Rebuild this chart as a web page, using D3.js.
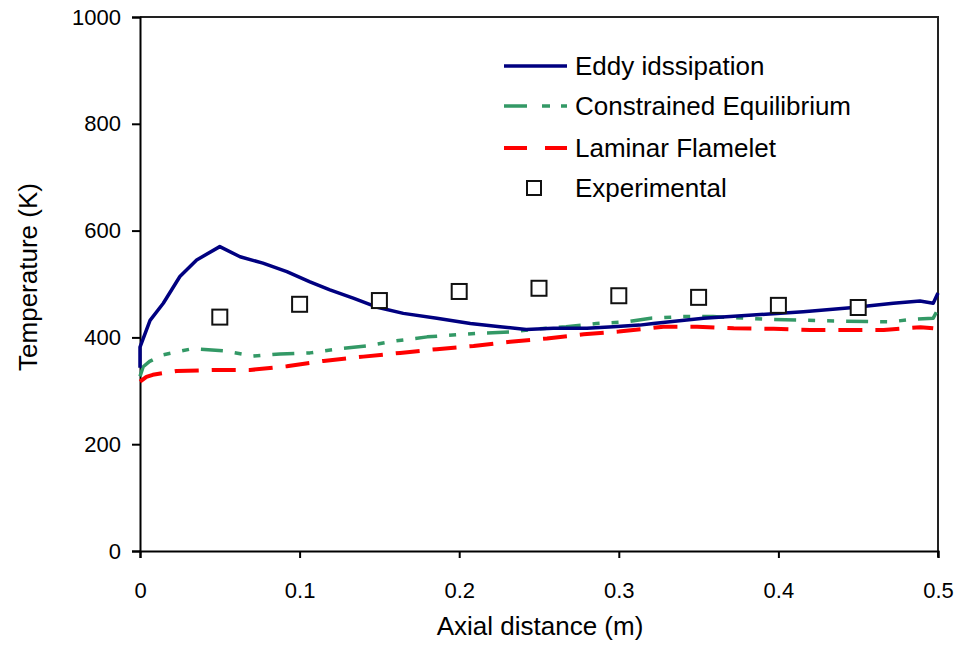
<!DOCTYPE html>
<html>
<head>
<meta charset="utf-8">
<script src="https://cdn.jsdelivr.net/npm/d3@7"></script>
<style>
  html, body { margin: 0; padding: 0; background: #fff; }
  svg text { font-family: Arial, "Liberation Sans", sans-serif; fill: #000; }
</style>
</head>
<body>
<svg id="chart" width="961" height="657"></svg>
<script>
// Axial temperature profiles: three combustion models vs. measurements
const eddyX = [0, 0, 0.0063, 0.0146, 0.025, 0.0355, 0.05, 0.0627, 0.077, 0.092, 0.1065, 0.119, 0.134, 0.148, 0.165, 0.186, 0.207, 0.2256, 0.242, 0.259, 0.28, 0.2966, 0.313, 0.3216, 0.353, 0.384, 0.4156, 0.447, 0.472, 0.4887, 0.497, 0.5];
const eddyT = [343, 382, 432, 464, 514, 545, 570, 551, 539, 523, 504, 489, 473, 457, 445, 436, 426, 420, 415, 417, 417, 420, 423, 426, 436, 442, 448, 456, 464, 468, 464, 483];

const ceqX = [0, 0.002, 0.006, 0.014, 0.033, 0.052, 0.071, 0.0877, 0.1065, 0.123, 0.142, 0.159, 0.18, 0.213, 0.232, 0.25, 0.267, 0.286, 0.305, 0.32, 0.34, 0.359, 0.392, 0.43, 0.47, 0.4845, 0.497, 0.5];
const ceqT = [327, 345, 355, 367, 379, 375, 365, 369, 371, 378, 384, 393, 401, 408, 410, 416, 420, 426, 429, 436, 439, 439, 434, 431, 429, 434, 436, 453];

const flameX = [0, 0.004, 0.008, 0.023, 0.046, 0.069, 0.092, 0.115, 0.14, 0.163, 0.186, 0.209, 0.232, 0.255, 0.278, 0.3, 0.328, 0.349, 0.372, 0.397, 0.42, 0.443, 0.466, 0.489, 0.497];
const flameT = [317, 326, 330, 337, 339, 339, 346, 356, 364, 371, 378, 384, 392, 398, 406, 411, 420, 420, 417, 416, 414, 414, 414, 419, 417];

const expX = [0.05, 0.1, 0.15, 0.2, 0.25, 0.3, 0.35, 0.4, 0.45];
const expT = [438, 462, 469, 486, 492, 478, 475, 460, 456];

const xTicks = [0, 0.1, 0.2, 0.3, 0.4, 0.5];
const yTicks = [0, 200, 400, 600, 800, 1000];

const seriesNames = ["Eddy idssipation", "Constrained Equilibrium", "Laminar Flamelet", "Experimental"];

const svg = d3.select("#chart");
const plotL = 140, plotR = 938, plotT = 17, plotB = 551;

const x = d3.scaleLinear().domain([0, 0.5]).range([plotL, plotR]);
const y = d3.scaleLinear().domain([0, 1000]).range([plotB, plotT]);

// frame: top and right edges of the plot box
svg.append("path")
  .attr("d", `M${plotL},${plotT}H${plotR}V${plotB + 6}`)
  .attr("fill", "none").attr("stroke", "#222").attr("stroke-width", 2);

// axes
const xAxis = svg.append("g").attr("transform", `translate(0,${plotB})`)
  .call(d3.axisBottom(x).tickValues(xTicks).tickSize(7).tickPadding(24)
    .tickFormat(d => d === 0 ? "0" : d3.format(".1f")(d)));
const yAxis = svg.append("g").attr("transform", `translate(${plotL},0)`)
  .call(d3.axisLeft(y).tickValues(yTicks).tickSize(8).tickPadding(11)
    .tickFormat(d3.format("d")));
[xAxis, yAxis].forEach(g => {
  g.attr("font-size", null).attr("font-family", null);
  g.select(".domain").attr("stroke", "#000").attr("stroke-width", 2);
  g.selectAll(".tick line").attr("stroke", "#000").attr("stroke-width", 2);
  g.selectAll(".tick text").style("font-size", "22px");
});

// axis titles
svg.append("text").attr("x", 540).attr("y", 635)
  .attr("text-anchor", "middle").style("font-size", "26px").text("Axial distance (m)");
svg.append("text").attr("transform", "translate(37,277) rotate(-90)")
  .attr("text-anchor", "middle").style("font-size", "26px").text("Temperature (K)");

const line = d3.line().x(d => x(d[0])).y(d => y(d[1]));
const zip = (a, b) => a.map((v, i) => [v, b[i]]);

const styles = [
  { color: "#000080", width: 3.5, dash: null },
  { color: "#339966", width: 3.5, dash: "22,12,7,12,7,12" },
  { color: "#ff0000", width: 4, dash: "24,13" }
];
const lineData = [zip(eddyX, eddyT), zip(ceqX, ceqT), zip(flameX, flameT)];

// draw order: flamelet, constrained equilibrium, eddy dissipation on top
[2, 1, 0].forEach(i => {
  svg.append("path").datum(lineData[i])
    .attr("d", line)
    .attr("fill", "none")
    .attr("stroke", styles[i].color)
    .attr("stroke-width", styles[i].width)
    .attr("stroke-dasharray", styles[i].dash)
    .attr("stroke-linejoin", "round");
});

// measured points
const sq = 15;
svg.append("g").selectAll("rect").data(zip(expX, expT)).join("rect")
  .attr("x", d => x(d[0]) - sq / 2).attr("y", d => y(d[1]) - sq / 2)
  .attr("width", sq).attr("height", sq)
  .attr("fill", "#fff").attr("stroke", "#111").attr("stroke-width", 2);

// legend
const legY = [66, 106, 148, 188];
const leg = svg.append("g");
seriesNames.forEach((name, i) => {
  if (i < 3) {
    leg.append("line").attr("x1", 504).attr("x2", 567).attr("y1", legY[i]).attr("y2", legY[i])
      .attr("stroke", styles[i].color).attr("stroke-width", styles[i].width)
      .attr("stroke-dasharray", i === 1 ? "23,15,8,11,8,11" : (i === 2 ? "23,18" : null));
  } else {
    leg.append("rect").attr("x", 534 - 7).attr("y", legY[i] - 7).attr("width", 14).attr("height", 14)
      .attr("fill", "#fff").attr("stroke", "#111").attr("stroke-width", 2);
  }
  leg.append("text").attr("x", 575).attr("y", legY[i]).attr("dy", "0.35em")
    .style("font-size", "26px").text(name);
});
</script>
</body>
</html>
